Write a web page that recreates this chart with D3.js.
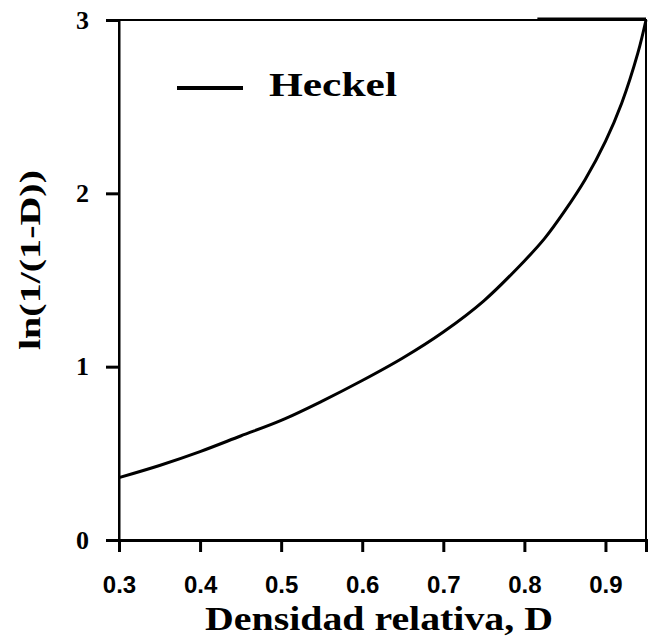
<!DOCTYPE html>
<html>
<head>
<meta charset="utf-8">
<script src="https://cdn.jsdelivr.net/npm/d3@7"></script>
<style>
  body { margin: 0; background: #fff; }
  text { fill: #000; }
</style>
</head>
<body>
<svg id="chart" width="652" height="638"></svg>
<script>
// values
const densidad = [0.30, 0.35, 0.40, 0.45, 0.50, 0.55, 0.60, 0.65, 0.70, 0.75, 0.80, 0.825, 0.85, 0.875, 0.90, 0.92, 0.94, 0.95];
const heckel   = [0.36, 0.43, 0.51, 0.60, 0.69, 0.80, 0.92, 1.05, 1.20, 1.38, 1.61, 1.74, 1.90, 2.08, 2.30, 2.52, 2.81, 3.00];
const xTicks = [0.3, 0.4, 0.5, 0.6, 0.7, 0.8, 0.9];
const yTicks = [0, 1, 2, 3];

const svg = d3.select('#chart');
const plotLeft = 119, plotRight = 646, plotTop = 20, plotBottom = 540;

const x = d3.scaleLinear().domain([0.3, 0.95]).range([plotLeft, plotRight]);
const y = d3.scaleLinear().domain([0, 3]).range([plotBottom, plotTop]);

const serif = '"Liberation Serif", "DejaVu Serif", serif';
const sans = '"Liberation Sans", Arial, sans-serif';

// frame
svg.append('rect')
    .attr('x', plotLeft).attr('y', plotTop)
    .attr('width', plotRight - plotLeft).attr('height', plotBottom - plotTop)
    .attr('fill', 'none').attr('stroke', '#000').attr('stroke-width', 2);

// x axis
const xAxis = svg.append('g')
    .attr('transform', `translate(0,${plotBottom})`)
    .call(d3.axisBottom(x).tickValues(xTicks).tickSize(12).tickPadding(24).tickFormat(d3.format('.1f')));
xAxis.select('.domain').attr('stroke-width', 3);
xAxis.selectAll('.tick line').attr('stroke-width', 3);
xAxis.selectAll('.tick text')
    .attr('font-family', sans).attr('font-weight', 'bold').attr('font-size', 24);

// y axis
const yAxis = svg.append('g')
    .attr('transform', `translate(${plotLeft},0)`)
    .call(d3.axisLeft(y).tickValues(yTicks).tickSize(13).tickPadding(17).tickFormat(d3.format('d')));
yAxis.select('.domain').attr('stroke-width', 2);
yAxis.selectAll('.tick line').attr('stroke-width', 3);
yAxis.selectAll('.tick text')
    .attr('font-family', serif).attr('font-weight', 'bold').attr('font-size', 26);

// curve
const line = d3.line()
    .x((d, i) => x(densidad[i]))
    .y(d => y(d))
    .curve(d3.curveCatmullRom);

svg.append('path')
    .datum(heckel)
    .attr('d', line)
    .attr('fill', 'none')
    .attr('stroke', '#000')
    .attr('stroke-width', 3);

// thick segment along top edge where curve hits the limit
svg.append('line')
    .attr('x1', x(0.816)).attr('x2', plotRight)
    .attr('y1', y(3) - 1).attr('y2', y(3) - 1)
    .attr('stroke', '#000').attr('stroke-width', 3);

// legend
svg.append('line')
    .attr('x1', 177).attr('x2', 243)
    .attr('y1', 88).attr('y2', 88)
    .attr('stroke', '#000').attr('stroke-width', 4);
svg.append('text')
    .attr('x', 269).attr('y', 96)
    .attr('font-family', serif).attr('font-weight', 'bold').attr('font-size', 33)
    .attr('textLength', 128).attr('lengthAdjust', 'spacingAndGlyphs')
    .text('Heckel');

// axis titles
svg.append('text')
    .attr('x', 379).attr('y', 630)
    .attr('text-anchor', 'middle')
    .attr('font-family', serif).attr('font-weight', 'bold').attr('font-size', 33)
    .attr('textLength', 348).attr('lengthAdjust', 'spacingAndGlyphs')
    .text('Densidad relativa, D');

svg.append('text')
    .attr('transform', 'translate(40,260) rotate(-90)')
    .attr('text-anchor', 'middle')
    .attr('font-family', serif).attr('font-weight', 'bold').attr('font-size', 30)
    .attr('textLength', 180).attr('lengthAdjust', 'spacingAndGlyphs')
    .text('ln(1/(1-D))');
</script>
</body>
</html>
